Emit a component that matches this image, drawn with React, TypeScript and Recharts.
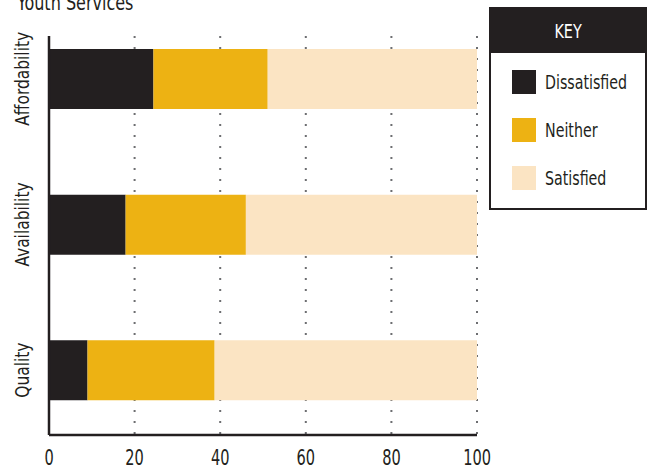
import React from 'react';
import { BarChart, Bar, XAxis, YAxis, CartesianGrid } from 'recharts';

const categories = ['Affordability', 'Availability', 'Quality'];
const dissatisfied = [24.4, 17.9, 9.0];
const neither = [26.7, 28.1, 29.7];
const satisfied = [48.9, 54.0, 61.3];
const xTicks = [0, 20, 40, 60, 80, 100];

const seriesNames = ['Dissatisfied', 'Neither', 'Satisfied'];
const seriesColors = ['#231f20', '#edb213', '#fbe4c3'];

const FONT = "'DejaVu Sans Condensed', 'DejaVu Sans', sans-serif";
const INK = '#231f20';

const data = categories.map((name, i) => ({
    name,
    Dissatisfied: dissatisfied[i],
    Neither: neither[i],
    Satisfied: satisfied[i],
}));

// narrow the glyphs a bit, the original uses a condensed face
const CategoryTick = (props: any) => {
    const { y, payload } = props;
    return (
        <g transform={`translate(29, ${y}) rotate(-90) scale(0.86, 1)`}>
            <text x={0} y={0} textAnchor="middle" fontSize={20} fontFamily={FONT} fill={INK}>
                {payload.value}
            </text>
        </g>
    );
};

const ValueTick = (props: any) => {
    const { x, payload } = props;
    return (
        <g transform={`translate(${x}, 465) scale(0.77, 1)`}>
            <text x={0} y={0} textAnchor="middle" fontSize={21} fontFamily={FONT} fill={INK}>
                {payload.value}
            </text>
        </g>
    );
};

const KeyBox = () => (
    <div
        style={{
            position: 'absolute',
            left: 489,
            top: 7,
            width: 158,
            height: 203,
            border: `2px solid ${INK}`,
            boxSizing: 'border-box',
            background: '#fff',
            fontFamily: FONT,
        }}
    >
        <div
            style={{
                height: 44,
                background: INK,
                color: '#fff',
                fontSize: 20,
                lineHeight: '44px',
                textAlign: 'center',
            }}
        >
            <span style={{ display: 'inline-block', transform: 'scaleX(0.8)' }}>KEY</span>
        </div>
        {seriesNames.map((n, i) => (
            <div key={n}>
                <div
                    style={{
                        position: 'absolute',
                        left: 21,
                        top: 61 + i * 48,
                        width: 24,
                        height: 24,
                        background: seriesColors[i],
                    }}
                />
                <div
                    style={{
                        position: 'absolute',
                        left: 54,
                        top: 61 + i * 48,
                        height: 24,
                        lineHeight: '24px',
                        fontSize: 20,
                        color: INK,
                        whiteSpace: 'nowrap',
                        transform: 'scaleX(0.79)',
                        transformOrigin: 'left center',
                    }}
                >
                    {n}
                </div>
            </div>
        ))}
    </div>
);

const App: React.FC = () => {
    return (
        <div style={{ position: 'absolute', left: 0, top: 0, width: 648, height: 470, background: '#fff', overflow: 'hidden' }}>
            <svg width={648} height={30} style={{ position: 'absolute', left: 0, top: 0 }}>
                <g transform="translate(17, 10) scale(0.81, 1)">
                    <text x={0} y={0} fontSize={22} fontFamily={FONT} fill={INK}>
                        Youth Services
                    </text>
                </g>
            </svg>
            <BarChart
                width={648}
                height={470}
                data={data}
                layout="vertical"
                margin={{ top: 36, right: 171, bottom: 0, left: 0 }}
                style={{ position: 'absolute', left: 0, top: 0 }}
            >
                <CartesianGrid
                    horizontal={false}
                    stroke="#6d6e71"
                    strokeWidth={2}
                    strokeDasharray="2 9"
                />
                <XAxis
                    type="number"
                    domain={[0, 100]}
                    ticks={xTicks}
                    height={35}
                    tickLine={false}
                    axisLine={{ stroke: INK, strokeWidth: 2.5 }}
                    tick={<ValueTick />}
                    interval={0}
                />
                <YAxis
                    type="category"
                    dataKey="name"
                    width={49}
                    tickLine={false}
                    axisLine={{ stroke: INK, strokeWidth: 2.5 }}
                    tick={<CategoryTick />}
                    padding={{ top: -30, bottom: -8 }}
                />
                {seriesNames.map((n, i) => (
                    <Bar key={n} dataKey={n} stackId="a" fill={seriesColors[i]} barSize={60} isAnimationActive={false} />
                ))}
            </BarChart>
            <KeyBox />
        </div>
    );
};

export default App;
